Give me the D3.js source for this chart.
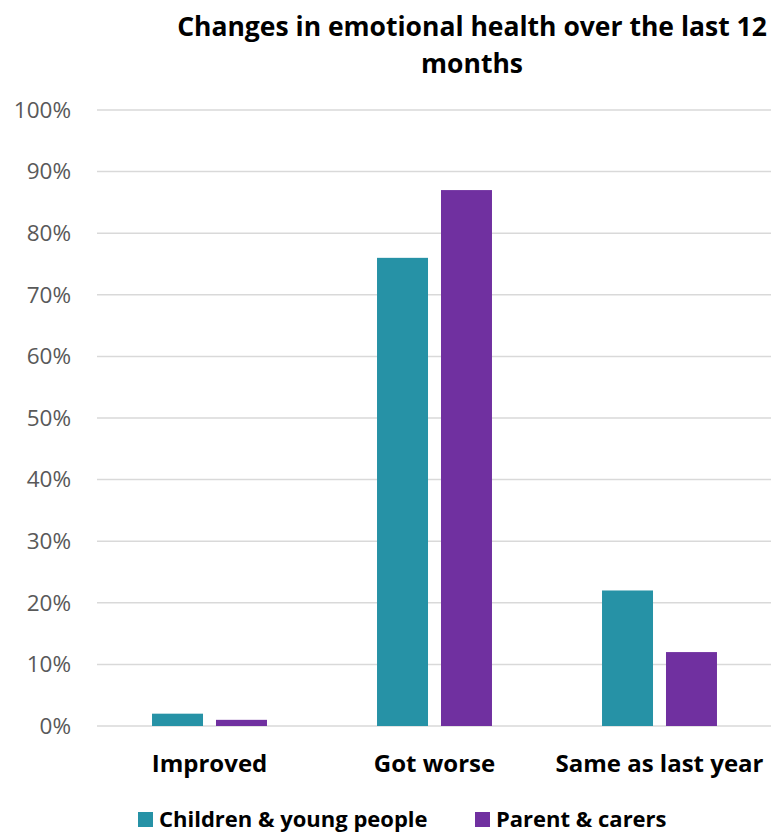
<!DOCTYPE html>
<html>
<head>
<meta charset="utf-8">
<script src="https://cdn.jsdelivr.net/npm/d3@7"></script>
<style>
  body { margin: 0; background: #fff; }
  svg text { font-family: "Open Sans", sans-serif; }
</style>
</head>
<body>
<main></main>
<script>
const width = 771;
const height = 833;

const categories = ['Improved', 'Got worse', 'Same as last year'];
const seriesNames = ['Children & young people', 'Parent & carers'];
const children = [2, 76, 22];
const parents = [1, 87, 12];
const yTicks = [0, 10, 20, 30, 40, 50, 60, 70, 80, 90, 100];
const colors = ['#2692A6', '#7030A0'];

const margin = {top: 110, right: -1, bottom: 107, left: 97};

const svg = d3.select('main')
              .append('svg')
              .attr('width', width)
              .attr('height', height)

// title, two lines
const title = svg.append('text')
                 .attr('text-anchor', 'middle')
                 .attr('font-weight', 'bold')
                 .attr('font-size', 26.5)
                 .attr('fill', '#000')
title.append('tspan').attr('x', 472).attr('y', 36).text('Changes in emotional health over the last 12')
title.append('tspan').attr('x', 472).attr('y', 73).text('months')

const x0 = d3.scaleBand()
             .domain(categories)
             .range([margin.left, width - margin.right]);

// 51px bars with a 13px gap inside each 225px band
const x1 = d3.scaleBand()
             .domain(seriesNames)
             .range([0, x0.bandwidth()])
             .paddingInner(0.203)
             .paddingOuter(0.86);

const y = d3.scaleLinear()
            .domain([0, 100])
            .range([height - margin.bottom, margin.top]);

// gridlines
svg.append('g')
   .selectAll('line')
   .data(yTicks)
   .enter()
   .append('line')
   .attr('x1', margin.left)
   .attr('x2', width)
   .attr('y1', (d) => y(d))
   .attr('y2', (d) => y(d))
   .attr('stroke', '#d9d9d9')
   .attr('stroke-width', 1.5)

// y axis labels
const yAxis = svg.append('g')
   .attr('transform', 'translate(' + margin.left + ',0)')
   .call(d3.axisLeft(y).tickValues(yTicks).tickFormat((d) => d + '%').tickSize(0).tickPadding(26))
yAxis.select('.domain').remove()
yAxis.selectAll('text')
     .attr('font-size', 22.5)
     .attr('fill', '#595959')
     .attr('font-family', '"Open Sans", sans-serif')

const rows = categories.map((c, i) => ({cat: c, values: [children[i], parents[i]]}));

svg.append('g')
   .selectAll('g')
   .data(rows)
   .enter()
   .append('g')
   .attr('transform', (d) => 'translate(' + x0(d.cat) + ',0)')
   .selectAll('rect')
   .data((d) => d.values.map((v, j) => ({name: seriesNames[j], value: v, j: j})))
   .enter()
   .append('rect')
   .attr('x', (d) => x1(d.name))
   .attr('width', x1.bandwidth())
   .attr('y', (d) => y(d.value))
   .attr('height', (d) => y(0) - y(d.value))
   .attr('fill', (d) => colors[d.j])

// x axis labels
const xAxis = svg.append('g')
   .attr('transform', 'translate(0,' + (height - margin.bottom) + ')')
   .call(d3.axisBottom(x0).tickSize(0).tickPadding(29))
xAxis.select('.domain').remove()
xAxis.selectAll('text')
     .attr('font-size', 24)
     .attr('font-weight', 'bold')
     .attr('fill', '#000')
     .attr('font-family', '"Open Sans", sans-serif')

// legend (raised a little so descenders are not cut at the bottom edge)
const legendX = [138, 475];
const legend = svg.append('g')
                  .selectAll('g')
                  .data(seriesNames)
                  .enter()
                  .append('g')
                  .attr('transform', (d, i) => 'translate(' + legendX[i] + ',812)')
legend.append('rect')
      .attr('width', 15)
      .attr('height', 15)
      .attr('fill', (d, i) => colors[i])
legend.append('text')
      .attr('x', 21)
      .attr('y', 15)
      .attr('font-size', 22)
      .attr('font-weight', 'bold')
      .attr('fill', '#000')
      .text((d) => d)
</script>
</body>
</html>
